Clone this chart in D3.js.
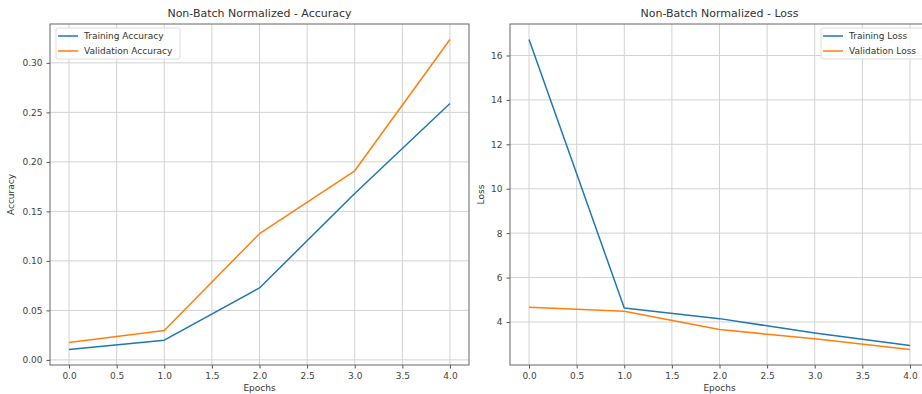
<!DOCTYPE html>
<html>
<head>
<meta charset="utf-8">
<script src="https://cdn.jsdelivr.net/npm/d3@7"></script>
<style>
  body { margin: 0; background: #fff; }
  svg { display: block; font-family: "DejaVu Sans", sans-serif; }
</style>
</head>
<body>
<svg id="chart" width="922" height="394"></svg>
<script>
const epochs = [0, 1, 2, 3, 4];
const trainAcc = [0.0105, 0.0199, 0.0727, 0.168, 0.259];
const valAcc = [0.0175, 0.0297, 0.1275, 0.191, 0.3236];
const trainLoss = [16.72, 4.63, 4.15, 3.50, 2.94];
const valLoss = [4.66, 4.48, 3.66, 3.24, 2.76];
const xTicks = [0, 0.5, 1, 1.5, 2, 2.5, 3, 3.5, 4];
const accTicks = [0, 0.05, 0.10, 0.15, 0.20, 0.25, 0.30];
const lossTicks = [4, 6, 8, 10, 12, 14, 16];

const svg = d3.select("#chart");
const blue = "#1f77b4", orange = "#ff7f0e";

function panel(opts) {
  const {left, right, top, bottom, title, ylabel, series, yTicks, yFmt, legendX, labelX} = opts;
  const all = series.flatMap(s => s.values);
  const mn = d3.min(all), mx = d3.max(all), pad = (mx - mn) * 0.05;
  const x = d3.scaleLinear().domain([-0.2, 4.2]).range([left, right]);
  const y = d3.scaleLinear().domain([mn - pad, mx + pad]).range([bottom, top]);
  const g = svg.append("g");

  // grid
  g.append("g").selectAll("line").data(xTicks).join("line")
    .attr("x1", d => x(d)).attr("x2", d => x(d)).attr("y1", top).attr("y2", bottom)
    .attr("stroke", "#d2d2d2").attr("stroke-width", 1);
  g.append("g").selectAll("line").data(yTicks).join("line")
    .attr("y1", d => y(d)).attr("y2", d => y(d)).attr("x1", left).attr("x2", right)
    .attr("stroke", "#d2d2d2").attr("stroke-width", 1);

  // axes
  const xa = g.append("g").attr("transform", `translate(0,${bottom})`)
    .call(d3.axisBottom(x).tickValues(xTicks).tickFormat(d3.format(".1f")).tickSize(3.5).tickPadding(4));
  const ya = g.append("g").attr("transform", `translate(${left},0)`)
    .call(d3.axisLeft(y).tickValues(yTicks).tickFormat(yFmt).tickSize(3.5).tickPadding(4));
  [xa, ya].forEach(a => {
    a.select(".domain").remove();
    a.selectAll("line").attr("stroke", "#555");
    a.selectAll("text").attr("fill", "#444").style("font-size", "9px").style("font-family", "DejaVu Sans");
  });

  // lines
  const line = d3.line().x((d, i) => x(epochs[i])).y(d => y(d));
  series.forEach(s => {
    g.append("path").datum(s.values).attr("d", line)
      .attr("fill", "none").attr("stroke", s.color).attr("stroke-width", 1.5)
      .attr("stroke-linejoin", "round");
  });

  // frame
  g.append("rect").attr("x", left).attr("y", top).attr("width", right - left).attr("height", bottom - top)
    .attr("fill", "none").attr("stroke", "#666").attr("stroke-width", 1);

  // title and labels
  g.append("text").attr("x", (left + right) / 2).attr("y", 17).attr("text-anchor", "middle")
    .attr("fill", "#333").style("font-size", "11px").text(title);
  g.append("text").attr("x", x(2)).attr("y", 391).attr("text-anchor", "middle")
    .attr("fill", "#333").style("font-size", "9px").text("Epochs");
  g.append("text").attr("transform", `translate(${labelX},${(top + bottom) / 2}) rotate(-90)`)
    .attr("text-anchor", "middle").attr("fill", "#333").style("font-size", "9px").text(ylabel);

  // legend
  const lg = g.append("g").attr("transform", `translate(${legendX},28)`);
  const w = opts.legendW;
  lg.append("rect").attr("width", w).attr("height", 31).attr("rx", 2)
    .attr("fill", "#fff").attr("fill-opacity", 0.85).attr("stroke", "#ddd").attr("stroke-width", 1);
  series.forEach((s, i) => {
    const yy = 8 + i * 15;
    lg.append("line").attr("x1", 2).attr("x2", 22).attr("y1", yy).attr("y2", yy)
      .attr("stroke", s.color).attr("stroke-width", 1.5);
    lg.append("text").attr("x", 28).attr("y", yy + 3.2).attr("fill", "#333")
      .style("font-size", "9px").text(s.name);
  });
}

panel({
  left: 50, right: 469, top: 24, bottom: 365,
  title: "Non-Batch Normalized - Accuracy", ylabel: "Accuracy",
  series: [{name: "Training Accuracy", values: trainAcc, color: blue},
           {name: "Validation Accuracy", values: valAcc, color: orange}],
  yTicks: accTicks, yFmt: d3.format(".2f"), legendX: 56, legendW: 124, labelX: 14
});
panel({
  left: 510, right: 929, top: 24, bottom: 365,
  title: "Non-Batch Normalized - Loss", ylabel: "Loss",
  series: [{name: "Training Loss", values: trainLoss, color: blue},
           {name: "Validation Loss", values: valLoss, color: orange}],
  yTicks: lossTicks, yFmt: d3.format("d"), legendX: 821, legendW: 104, labelX: 484
});
</script>
</body>
</html>
